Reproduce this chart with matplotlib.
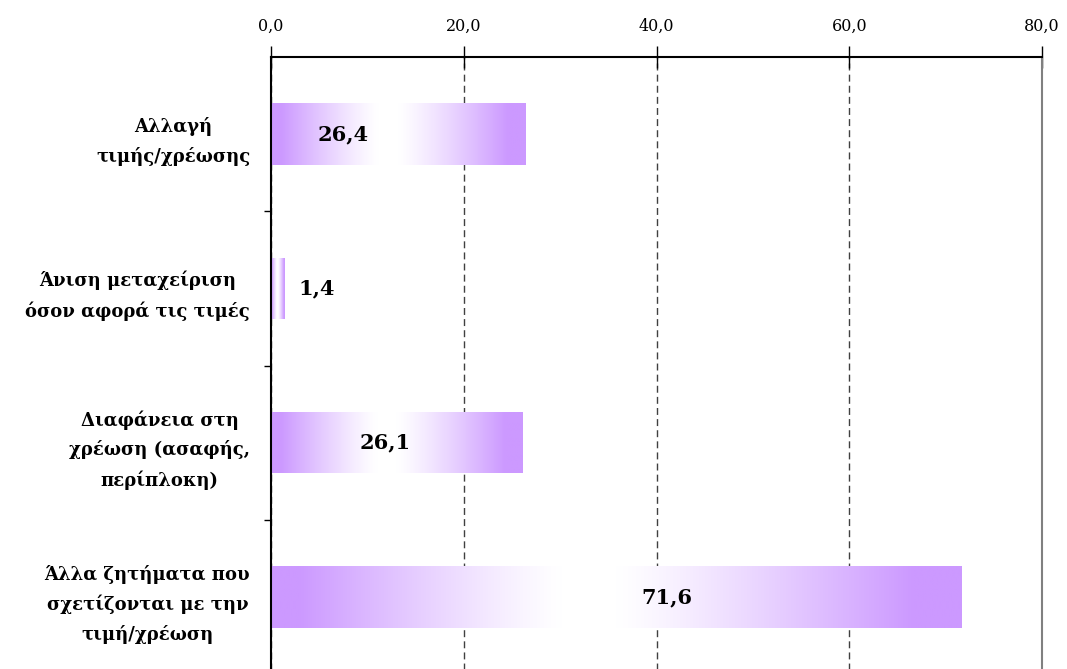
import numpy as np
import matplotlib
matplotlib.use("Agg")
from matplotlib import pyplot as plt
from matplotlib.colors import to_rgb

categories = [
    "Αλλαγή\nτιμής/χρέωσης",
    "Άνιση μεταχείριση\nόσον αφορά τις τιμές",
    "Διαφάνεια στη\nχρέωση (ασαφής,\nπερίπλοκη)",
    "Άλλα ζητήματα που\nσχετίζονται με την\nτιμή/χρέωση",
]
values = [26.4, 1.4, 26.1, 71.6]
label_x = [7.5, 4.7, 11.8, 41.1]
xticks = [0, 20, 40, 60, 80]

plt.rcParams['font.family'] = ['DejaVu Serif']

purple = np.array(to_rgb("#CC99FF"))
white = np.ones(3)


def gradient(n=512):
    # purple at both ends, white a bit left of the middle
    t = np.linspace(0, 1, n)
    f = np.interp(t, [0, 0.04, 0.42, 0.5, 0.93, 1.0], [1.0, 1.0, 0.0, 0.0, 1.0, 1.0])
    f = f ** 1.2
    rgb = white[None, :] + (purple - white)[None, :] * f[:, None]
    return rgb[None, :, :]


fig = plt.figure(figsize=(10.67, 6.69), dpi=100)
ax = fig.add_axes([0.254, -0.0075, 0.7226, 0.9223])

pos = np.arange(len(values))
bars = ax.barh(pos, values, height=0.4, color="none", edgecolor="none", zorder=3)
grad = gradient()
for b in bars:
    x0, y0 = b.get_x(), b.get_y()
    im = ax.imshow(grad, extent=[x0, x0 + b.get_width(), y0, y0 + b.get_height()],
                   aspect="auto", interpolation="bilinear", zorder=2)
    im.set_clip_path(b)

for p, v, lx in zip(pos, values, label_x):
    ax.text(lx, p, f"{v:.1f}".replace(".", ","), ha="center", va="center",
            fontsize=15, fontweight="bold", zorder=4)

ax.set_xlim(0, 80)
ax.set_ylim(3.5, -0.5)
ax.xaxis.tick_top()
ax.set_xticks(xticks)
ax.set_xticklabels([f"{t:.1f}".replace(".", ",") for t in xticks], fontsize=11.5)
ax.tick_params(axis="x", direction="inout", length=16, width=1, pad=8)

ax.set_yticks(pos)
ax.set_yticklabels(categories, fontsize=13, fontweight="bold",
                   multialignment="center", linespacing=1.7)
ax.tick_params(axis="y", length=0, pad=15)
ax.set_yticks(np.arange(0.5, len(values), 1), minor=True)
ax.tick_params(axis="y", which="minor", direction="out", length=5, width=1)

ax.grid(axis="x", color="#404040", linestyle=(0, (5, 3)), linewidth=1, zorder=1)
ax.set_axisbelow(True)
ax.spines["bottom"].set_visible(False)
ax.spines["left"].set_linewidth(1.5)
ax.spines["top"].set_linewidth(1.5)
ax.spines["right"].set_color("#808080")
ax.spines["right"].set_linewidth(1.5)

fig.savefig("out.png", dpi=100)
